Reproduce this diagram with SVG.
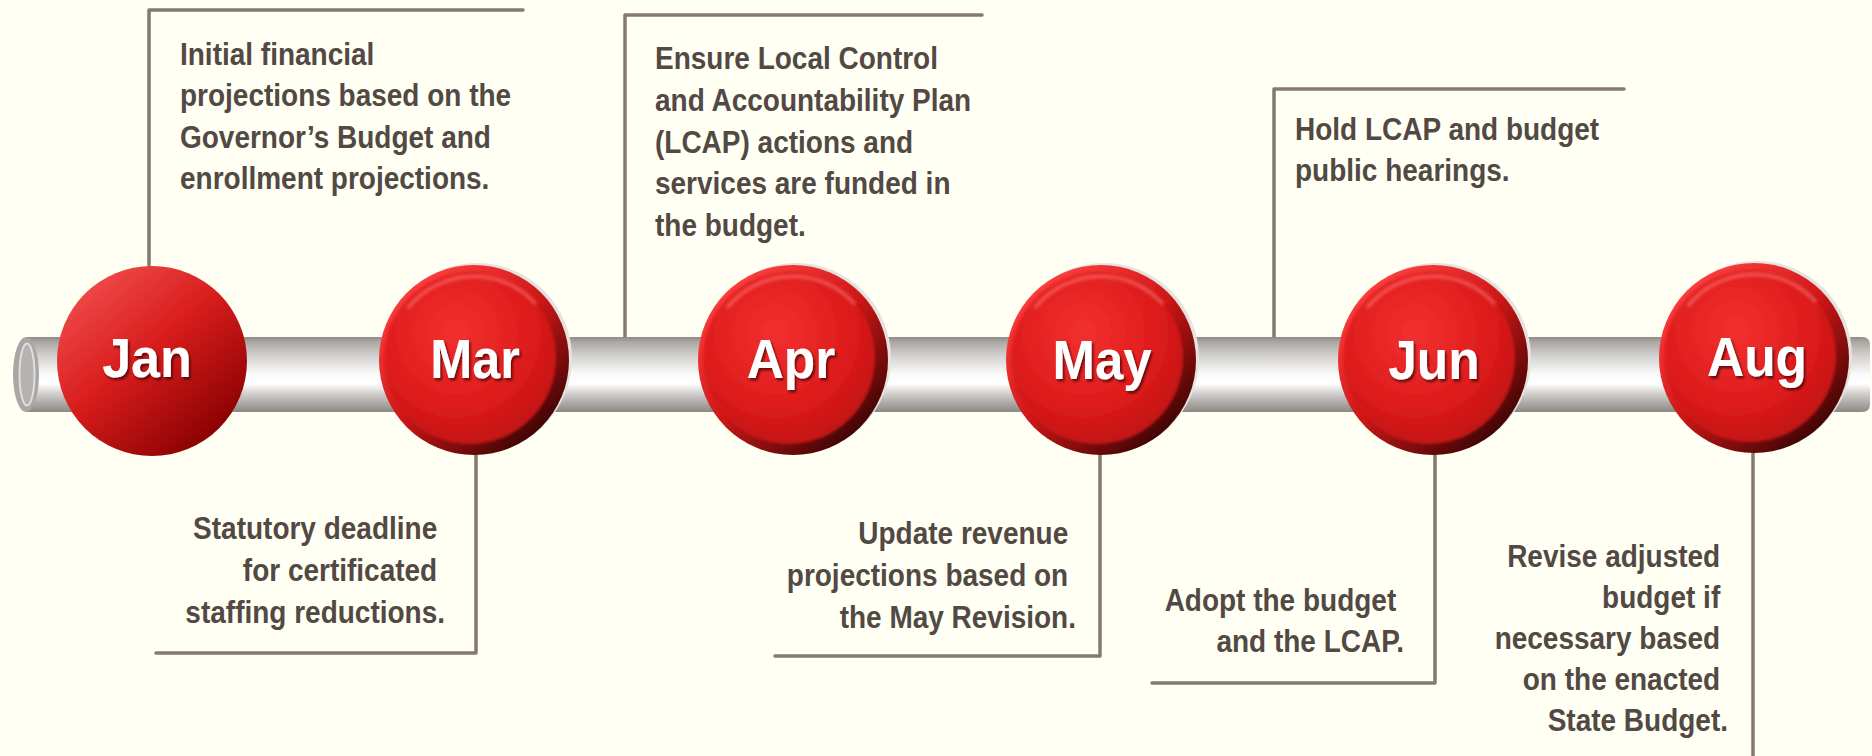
<svg xmlns="http://www.w3.org/2000/svg" width="1872" height="756" viewBox="0 0 1872 756">
  <style>
    .note { font-family: "Liberation Sans", Arial, sans-serif; font-weight: bold; font-size: 32px; fill: #524945; }
    .month { font-family: "Liberation Sans", Arial, sans-serif; font-weight: bold; font-size: 56px; fill: #ffffff; text-anchor: middle; filter: url(#txtShadow); }
    .link { fill: none; stroke: #857972; stroke-width: 3.5; stroke-linecap: round; stroke-linejoin: round; }
  </style>
  <defs>
    <linearGradient id="pipeGrad" x1="0" y1="0" x2="0" y2="1">
      <stop offset="0" stop-color="#8e8a88"/>
      <stop offset="0.06" stop-color="#a9a5a3"/>
      <stop offset="0.25" stop-color="#d3d1cf"/>
      <stop offset="0.5" stop-color="#fbfbfb"/>
      <stop offset="0.62" stop-color="#ffffff"/>
      <stop offset="0.8" stop-color="#c4c1bf"/>
      <stop offset="0.92" stop-color="#a29e9c"/>
      <stop offset="1" stop-color="#8c8886"/>
    </linearGradient>
    <linearGradient id="flatRed" x1="0.15" y1="0.08" x2="0.85" y2="0.92">
      <stop offset="0" stop-color="#f04a4a"/>
      <stop offset="0.45" stop-color="#d81c1c"/>
      <stop offset="1" stop-color="#850000"/>
    </linearGradient>
    <linearGradient id="rimRed" x1="0.15" y1="0.1" x2="0.85" y2="0.9">
      <stop offset="0" stop-color="#ff4040"/>
      <stop offset="0.5" stop-color="#cc1616"/>
      <stop offset="1" stop-color="#3a0404"/>
    </linearGradient>
    <radialGradient id="faceRed" cx="0.42" cy="0.35" r="0.72">
      <stop offset="0" stop-color="#f23030"/>
      <stop offset="0.6" stop-color="#de1c1c"/>
      <stop offset="1" stop-color="#bd1010"/>
    </radialGradient>
    <filter id="soft" x="-10%" y="-10%" width="120%" height="120%">
      <feGaussianBlur stdDeviation="1.8"/>
    </filter>
    <filter id="txtShadow" x="-20%" y="-20%" width="140%" height="140%">
      <feDropShadow dx="2" dy="2.5" stdDeviation="1.2" flood-color="#3a0000" flood-opacity="0.7"/>
    </filter>
    <!-- bevelled red button, centred on the origin -->
    <g id="button">
      <circle cx="3" cy="-2" r="95" fill="#e6e2de"/>
      <circle r="95" fill="url(#rimRed)"/>
      <circle cx="-4" cy="-2" r="86" fill="url(#faceRed)" filter="url(#soft)"/>
      <path d="M-66,-52 A84,84 0 0 1 62,-56" fill="none" stroke="#ff7a7a" stroke-width="4" stroke-opacity="0.5" filter="url(#soft)"/>
    </g>
  </defs>

  <rect width="1872" height="756" fill="#fffff3"/>

  <!-- leader lines from each month to its note -->
  <g id="connectors">
    <path class="link" d="M149,266 V10 H523"/>
    <path class="link" d="M476,452 V653 H156"/>
    <path class="link" d="M625,337 V15 H982"/>
    <path class="link" d="M1100,452 V656 H775"/>
    <path class="link" d="M1274,337 V89 H1624"/>
    <path class="link" d="M1435,452 V683 H1152"/>
    <path class="link" d="M1753,450 V760"/>
  </g>

  <!-- timeline pipe -->
  <g id="pipe">
    <path d="M25,337 H1862 Q1870,337 1870,345 V404 Q1870,412 1862,412 H25 Z" fill="url(#pipeGrad)"/>
    <ellipse cx="26" cy="374.5" rx="13" ry="37.5" fill="#a9a7a6"/>
    <ellipse cx="27" cy="374.5" rx="7.5" ry="31" fill="#b5b3b2" stroke="#e0dedd" stroke-width="2"/>
  </g>

  <g id="jan">
    <circle cx="152" cy="361" r="95" fill="url(#flatRed)"/>
    <text class="month" transform="translate(147 377) scale(0.93 1)">Jan</text>
    <text class="note" transform="translate(180 0) scale(0.875 1)">
      <tspan x="0" y="65">Initial financial</tspan>
      <tspan x="0" y="106">projections based on the</tspan>
      <tspan x="0" y="148">Governor’s Budget and</tspan>
      <tspan x="0" y="189">enrollment projections.</tspan>
    </text>
  </g>

  <g id="mar">
    <use href="#button" x="474" y="360"/>
    <text class="month" transform="translate(475 378) scale(0.9 1)">Mar</text>
    <text class="note" text-anchor="end" transform="translate(445 0) scale(0.875 1)">
      <tspan x="0" y="539">Statutory deadline</tspan>
      <tspan x="0" y="581">for certificated</tspan>
      <tspan x="0" y="623">staffing reductions.</tspan>
    </text>
  </g>

  <g id="apr">
    <use href="#button" x="793" y="360"/>
    <text class="month" transform="translate(791 378) scale(0.92 1)">Apr</text>
    <text class="note" transform="translate(655 0) scale(0.875 1)">
      <tspan x="0" y="69">Ensure Local Control</tspan>
      <tspan x="0" y="111">and Accountability Plan</tspan>
      <tspan x="0" y="153">(LCAP) actions and</tspan>
      <tspan x="0" y="194">services are funded in</tspan>
      <tspan x="0" y="236">the budget.</tspan>
    </text>
  </g>

  <g id="may">
    <use href="#button" x="1101" y="360"/>
    <text class="month" transform="translate(1102 379) scale(0.91 1)">May</text>
    <text class="note" text-anchor="end" transform="translate(1076 0) scale(0.875 1)">
      <tspan x="0" y="544">Update revenue</tspan>
      <tspan x="0" y="586">projections based on</tspan>
      <tspan x="0" y="628">the May Revision.</tspan>
    </text>
  </g>

  <g id="jun">
    <use href="#button" x="1433" y="360"/>
    <text class="month" transform="translate(1434 379) scale(0.92 1)">Jun</text>
    <text class="note" transform="translate(1295 0) scale(0.875 1)">
      <tspan x="0" y="140">Hold LCAP and budget</tspan>
      <tspan x="0" y="181">public hearings.</tspan>
    </text>
    <text class="note" text-anchor="end" transform="translate(1404 0) scale(0.875 1)">
      <tspan x="0" y="611">Adopt the budget</tspan>
      <tspan x="0" y="652">and the LCAP.</tspan>
    </text>
  </g>

  <g id="aug">
    <use href="#button" x="1754" y="358"/>
    <text class="month" transform="translate(1757 376) scale(0.92 1)">Aug</text>
    <text class="note" text-anchor="end" transform="translate(1728 0) scale(0.875 1)">
      <tspan x="0" y="567">Revise adjusted</tspan>
      <tspan x="0" y="608">budget if</tspan>
      <tspan x="0" y="649">necessary based</tspan>
      <tspan x="0" y="690">on the enacted</tspan>
      <tspan x="0" y="731">State Budget.</tspan>
    </text>
  </g>
</svg>
